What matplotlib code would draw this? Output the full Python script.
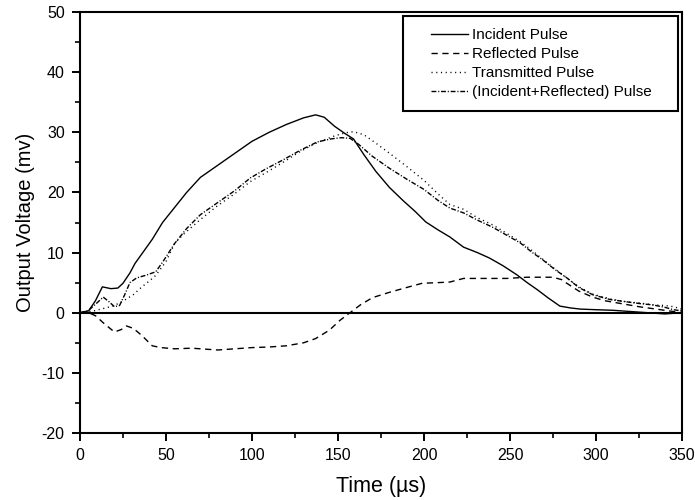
import numpy as np
import matplotlib.pyplot as plt
from matplotlib.ticker import MultipleLocator
from matplotlib.patches import Rectangle

plt.rcParams['font.family'] = ['Liberation Sans', 'DejaVu Sans']
plt.rcParams['axes.unicode_minus'] = False

# Incident pulse (solid)
t_inc = [0, 5, 9, 13, 18, 22, 25, 29, 32, 37, 42, 48, 55, 62, 70, 80, 90, 100, 110, 120, 130,
         137, 142, 148, 154, 159, 165, 172, 180, 188, 195, 201, 208, 215, 223, 231, 238, 246,
         254, 260, 266, 272, 279, 285, 291, 300, 310, 320, 330, 340, 350]
v_inc = [0, 0.3, 2.0, 4.3, 4.0, 4.1, 4.9, 6.6, 8.2, 10.2, 12.2, 15.0, 17.5, 20.0, 22.5, 24.5,
         26.5, 28.5, 30.0, 31.3, 32.4, 32.9, 32.5, 31.0, 29.8, 28.9, 26.3, 23.5, 20.8, 18.6,
         16.8, 15.1, 13.8, 12.6, 10.9, 10.0, 9.1, 7.8, 6.3, 5.0, 3.8, 2.5, 1.1, 0.8, 0.6, 0.5,
         0.4, 0.2, 0.0, -0.2, 0.0]

# Reflected pulse (dashed)
t_ref = [0, 5, 9, 14, 20, 24, 27, 31, 36, 42, 47, 55, 65, 80, 90, 100, 110, 120, 130, 137, 145,
         151, 157, 163, 170, 180, 190, 199, 208, 215, 223, 235, 248, 260, 275, 280, 283, 290,
         298, 305, 315, 325, 335, 345, 350]
v_ref = [0, 0, -0.5, -1.8, -3.2, -2.8, -2.2, -2.6, -3.8, -5.5, -5.8, -6.0, -5.9, -6.2, -6.0, -5.8,
         -5.7, -5.5, -5.0, -4.3, -2.9, -1.3, 0.0, 1.3, 2.5, 3.4, 4.2, 4.9, 5.0, 5.1, 5.7, 5.7,
         5.7, 5.9, 5.9, 5.5, 4.9, 3.6, 2.6, 2.0, 1.5, 1.0, 0.6, 0.2, 0.0]

# Transmitted pulse (dotted)
t_tra = [0, 8, 15, 20, 26, 31, 36, 40, 44, 50, 55, 60, 70, 80, 90, 99, 110, 118, 128, 138, 148,
         154, 159, 165, 172, 180, 190, 200, 208, 215, 223, 231, 240, 248, 256, 263, 269, 276,
         283, 290, 298, 308, 318, 326, 333, 340, 345, 350]
v_tra = [0, 0.3, 0.8, 1.2, 2.1, 3.0, 4.3, 5.2, 6.2, 8.5, 11.5, 13.0, 15.5, 17.8, 19.8, 21.8,
         23.6, 25.0, 26.8, 28.3, 29.4, 29.9, 30.1, 29.6, 28.2, 26.5, 24.3, 22.0, 19.8, 18.0,
         17.2, 15.8, 14.6, 13.2, 11.8, 10.3, 8.9, 7.3, 5.8, 4.3, 3.1, 2.3, 1.8, 1.6, 1.3, 1.2,
         1.0, 0.6]

# (Incident+Reflected) pulse (dash-dot)
t_sum = [0, 5, 9, 13.5, 17, 20, 23, 26, 29, 33, 38, 44, 48, 55, 62, 70, 80, 90, 99, 108, 118,
         128, 138, 146, 152, 157, 162, 170, 180, 190, 200, 208, 215, 223, 231, 240, 248, 256,
         263, 269, 276, 283, 290, 298, 308, 318, 326, 333, 340, 345, 350]
v_sum = [0, 0.4, 1.4, 2.6, 1.8, 1.0, 1.2, 3.0, 5.0, 5.8, 6.2, 6.8, 8.4, 11.5, 14.0, 16.3, 18.3,
         20.3, 22.4, 23.9, 25.4, 27.0, 28.4, 28.9, 29.1, 29.0, 28.0, 26.0, 24.0, 22.2, 20.5,
         18.7, 17.4, 16.6, 15.4, 14.2, 12.9, 11.6, 10.0, 8.8, 7.2, 5.8, 4.2, 3.0, 2.2, 1.8,
         1.5, 1.3, 0.9, 0.5, 0.3]

W, H = 695, 500
fig = plt.figure(figsize=(W / 100, H / 100), dpi=100)
ax = fig.add_axes([80 / W, 1 - 433 / H, 602 / W, 421 / H])

ax.plot(t_inc, v_inc, color='black', lw=1.0, ls='-', label='Incident Pulse')
ax.plot(t_ref, v_ref, color='black', lw=1.0, ls=(0, (4.5, 3.3)), label='Reflected Pulse')
ax.plot(t_tra, v_tra, color='black', lw=1.0, ls=(0, (0.8, 2.6)), label='Transmitted Pulse')
ax.plot(t_sum, v_sum, color='black', lw=1.0, ls=(0, (3.5, 1.3, 0.8, 1.3)),
        label='(Incident+Reflected) Pulse')
ax.axhline(0, color='black', lw=1.5, zorder=1)

ax.set_xlim(0, 350)
ax.set_ylim(-20, 50)
ax.xaxis.set_major_locator(MultipleLocator(50))
ax.xaxis.set_minor_locator(MultipleLocator(25))
ax.yaxis.set_major_locator(MultipleLocator(10))
ax.yaxis.set_minor_locator(MultipleLocator(5))
ax.tick_params(which='major', direction='out', length=6, width=1.4, labelsize=11.5, pad=5)
ax.tick_params(which='minor', direction='out', length=3.5, width=1.2)
for s in ax.spines.values():
    s.set_linewidth(1.5)

ax.set_xlabel('Time (\u00b5s)', fontsize=15.5, labelpad=9)
ax.set_ylabel('Output Voltage (mv)', fontsize=14.5, labelpad=5)

# legend box drawn by hand so its padding matches the original
box = Rectangle((403 / W, 1 - 111 / H), 275 / W, 95 / H, transform=fig.transFigure,
                facecolor='white', edgecolor='black', lw=1.5, zorder=4)
ax.add_patch(box)
box.set_clip_on(False)
leg = ax.legend(loc='upper left', bbox_to_anchor=(431 / W, 1 - 28 / H),
                bbox_transform=fig.transFigure, fontsize=11, frameon=False,
                handlelength=2.4, borderpad=0, borderaxespad=0,
                labelspacing=0.33, handletextpad=0.3)
leg.set_zorder(5)

fig.savefig('out.png', dpi=100)
